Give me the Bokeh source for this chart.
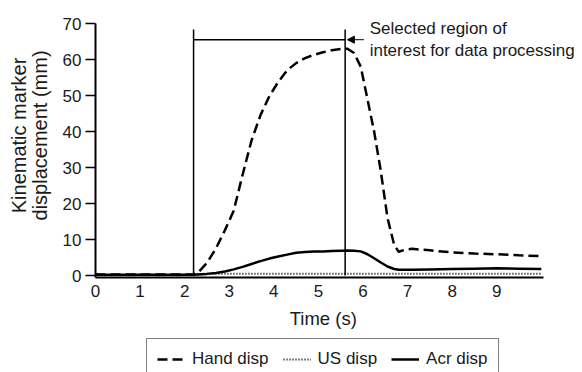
import math
from bokeh.plotting import figure
from bokeh.models import Range1d, FixedTicker, Legend, LegendItem, Arrow, NormalHead, ColumnDataSource
from bokeh.core.properties import value
from bokeh.embed import file_html
from bokeh.resources import INLINE

time = [0, 0.5, 1, 1.5, 2, 2.2, 2.3, 2.5, 2.7, 2.9, 3.1, 3.3, 3.5, 3.7, 3.9, 4.1, 4.3, 4.5,
        4.7, 4.9, 5.1, 5.3, 5.5, 5.65, 5.8, 5.95, 6.1, 6.25, 6.4, 6.55, 6.7, 6.8, 6.95,
        7.1, 7.5, 8, 8.5, 9, 9.5, 10.0]
hand_disp = [0.3, 0.3, 0.3, 0.3, 0.3, 0.3, 0.8, 3.5, 7.5, 12.5, 18, 28, 37.5, 44.5, 49.8,
             53.8, 57, 59, 60.4, 61.3, 62, 62.6, 62.9, 63, 61.8, 58, 49, 40, 29, 16, 8.5,
             6.6, 7.2, 7.4, 7.0, 6.4, 6.1, 5.9, 5.6, 5.4]
us_disp = [0.1, 0.1, 0.1, 0.1, 0.1, 0.2, 0.4, 0.5, 0.5, 0.5, 0.5, 0.5, 0.5, 0.5, 0.5, 0.5,
           0.5, 0.5, 0.5, 0.5, 0.5, 0.5, 0.5, 0.5, 0.5, 0.5, 0.5, 0.5, 0.5, 0.5, 0.5, 0.5,
           0.5, 0.5, 0.5, 0.5, 0.5, 0.5, 0.5, 0.5]
acr_disp = [0.2, 0.2, 0.2, 0.2, 0.2, 0.2, 0.3, 0.45, 0.7, 1.1, 1.7, 2.4, 3.2, 4.0, 4.7, 5.3,
            5.8, 6.3, 6.5, 6.7, 6.7, 6.8, 6.9, 6.95, 6.9, 6.7, 5.9, 4.8, 3.6, 2.5, 1.8, 1.6,
            1.6, 1.6, 1.7, 1.8, 1.9, 2.0, 1.9, 1.8]

x_ticks = [0, 1, 2, 3, 4, 5, 6, 7, 8, 9]
y_ticks = [0, 10, 20, 30, 40, 50, 60, 70]

region_start = 2.2
region_end = 5.6
region_bar_y = 65.5
region_top_y = 68.3
arrow_from_x = 6.02
arrow_to_x = 5.65
note_x = 6.15
note_lines = ["Selected region of", "interest for data processing"]
note_y = [68.6, 62.5]

x_title = "Time (s)"
y_title_lines = ["Kinematic marker", "displacement (mm)"]

FONT = "Liberation Sans"
TXT = "#1a1a1a"

# the frame covers the whole picture; axes are pinned inside it
W, H = 582, 372
AX_LEFT_PX, AX_TOP_PX = 95, 23
PX_PER_X = 44.58
PX_PER_Y = 3.6
X_MAX = 10.05
Y_MAX = 70
AXIS_Y = -0.5
X_START = -AX_LEFT_PX / PX_PER_X
X_END = (W - AX_LEFT_PX) / PX_PER_X
Y_END = Y_MAX + AX_TOP_PX / PX_PER_Y
Y_START = Y_MAX - (H - AX_TOP_PX) / PX_PER_Y

# title anchor positions (data units)
x_title_pos = (5.11, -12.0)
y_title_x = [-1.727, -1.234]
y_title_y = 38.9

p = figure(width=W, height=H, output_backend="svg", toolbar_location=None,
           x_range=Range1d(X_START, X_END), y_range=Range1d(Y_START, Y_END),
           min_border_left=0, min_border_top=0, min_border_right=0, min_border_bottom=0)
p.grid.visible = False
p.outline_line_color = None
p.background_fill_color = "white"
p.border_fill_color = "white"

src = ColumnDataSource(dict(t=time, hand=hand_disp, us=us_disp, acr=acr_disp))
r_hand = p.line("t", "hand", source=src, line_color="black", line_width=2.5, line_dash="10 5")
r_us = p.line("t", "us", source=src, line_color="black", line_width=2, line_dash="1 2")
r_acr = p.line("t", "acr", source=src, line_color="black", line_width=2.5)

# region of interest markers
p.segment(x0=[region_start, region_end], y0=[0, 0], x1=[region_start, region_end],
          y1=[region_top_y, region_top_y], line_color="black", line_width=1.5)
p.segment(x0=[region_start], y0=[region_bar_y], x1=[region_end], y1=[region_bar_y],
          line_color="black", line_width=1.5)
p.add_layout(Arrow(x_start=arrow_from_x, y_start=region_bar_y, x_end=arrow_to_x, y_end=region_bar_y,
                   line_color="black", line_width=1,
                   end=NormalHead(size=7, fill_color="black", line_color="black")))
p.text(x=[note_x, note_x], y=note_y, text=note_lines, text_font=value(FONT),
       text_font_size="17px", text_baseline="middle", text_align="left", text_color=TXT)

# axis titles
p.text(x=[x_title_pos[0]], y=[x_title_pos[1]], text=[x_title], text_font=value(FONT),
       text_font_size="18.5px", text_baseline="middle", text_align="center", text_color=TXT)
p.text(x=y_title_x, y=[y_title_y, y_title_y], text=y_title_lines, text_font=value(FONT),
       text_font_size="20px", text_baseline="middle", text_align="center", text_color=TXT,
       angle=math.pi / 2)

# axes
xa = p.xaxis[0]
xa.fixed_location = AXIS_Y
xa.bounds = (0, X_MAX)
xa.ticker = FixedTicker(ticks=x_ticks)
xa.major_tick_out = 0
xa.major_tick_in = 0
xa.minor_tick_out = 0
xa.minor_tick_in = 0
xa.axis_line_width = 2
xa.major_label_text_font = FONT
xa.major_label_text_font_size = "17px"
xa.major_label_text_color = TXT
xa.major_label_standoff = 8

ya = p.yaxis[0]
ya.fixed_location = 0
ya.bounds = (AXIS_Y, Y_MAX)
ya.ticker = FixedTicker(ticks=y_ticks)
ya.major_tick_out = 10
ya.major_tick_in = 0
ya.minor_tick_out = 0
ya.minor_tick_in = 0
ya.axis_line_width = 2
ya.major_tick_line_width = 1.5
ya.major_label_text_font = FONT
ya.major_label_text_font_size = "17px"
ya.major_label_text_color = TXT
ya.major_label_standoff = 4

legend = Legend(items=[LegendItem(label="Hand disp", renderers=[r_hand]),
                       LegendItem(label="US disp", renderers=[r_us]),
                       LegendItem(label="Acr disp", renderers=[r_acr])],
                orientation="horizontal", location=(146, -8))
legend.border_line_color = "black"
legend.border_line_width = 1
legend.background_fill_alpha = 0
legend.label_text_font = FONT
legend.label_text_font_size = "17px"
legend.label_text_color = TXT
legend.glyph_width = 28
legend.label_standoff = 7
legend.spacing = 14
legend.padding = 10
legend.margin = 0
p.add_layout(legend)

open("out.html", "w").write(file_html(p, INLINE))
